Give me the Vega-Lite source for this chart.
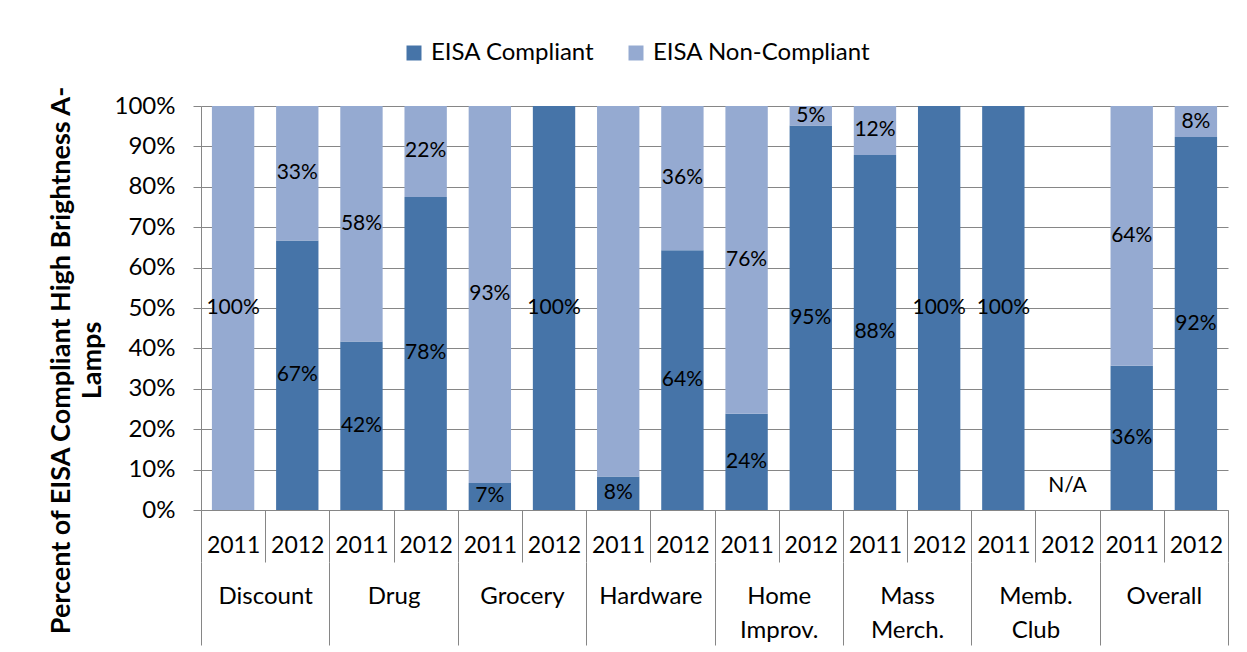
{
  "$schema": "https://vega.github.io/schema/vega-lite/v6.json",
  "width": 1027,
  "height": 404,
  "autosize": {"type": "none"},
  "padding": {"left": 201, "top": 106, "right": 19, "bottom": 142},
  "background": "white",
  "config": {
    "font": "Lato",
    "view": {"stroke": null},
    "axis": {"labelColor": "#000000", "titleColor": "#000000", "domainColor": "#868686", "tickColor": "#868686", "gridColor": "#868686", "labelFont": "Lato", "titleFont": "Lato"},
    "legend": {"labelFont": "Lato"}
  },
  "data": {
    "values": [
      {"cat": "Discount", "year": "2011", "status": "EISA Compliant", "value": 0.0, "label": ""},
      {"cat": "Discount", "year": "2011", "status": "EISA Non-Compliant", "value": 1.0, "label": "100%"},
      {"cat": "Discount", "year": "2012", "status": "EISA Compliant", "value": 0.667, "label": "67%"},
      {"cat": "Discount", "year": "2012", "status": "EISA Non-Compliant", "value": 0.333, "label": "33%"},
      {"cat": "Drug", "year": "2011", "status": "EISA Compliant", "value": 0.417, "label": "42%"},
      {"cat": "Drug", "year": "2011", "status": "EISA Non-Compliant", "value": 0.583, "label": "58%"},
      {"cat": "Drug", "year": "2012", "status": "EISA Compliant", "value": 0.775, "label": "78%"},
      {"cat": "Drug", "year": "2012", "status": "EISA Non-Compliant", "value": 0.225, "label": "22%"},
      {"cat": "Grocery", "year": "2011", "status": "EISA Compliant", "value": 0.067, "label": "7%"},
      {"cat": "Grocery", "year": "2011", "status": "EISA Non-Compliant", "value": 0.933, "label": "93%"},
      {"cat": "Grocery", "year": "2012", "status": "EISA Compliant", "value": 1.0, "label": "100%"},
      {"cat": "Grocery", "year": "2012", "status": "EISA Non-Compliant", "value": 0.0, "label": ""},
      {"cat": "Hardware", "year": "2011", "status": "EISA Compliant", "value": 0.083, "label": "8%"},
      {"cat": "Hardware", "year": "2011", "status": "EISA Non-Compliant", "value": 0.917, "label": ""},
      {"cat": "Hardware", "year": "2012", "status": "EISA Compliant", "value": 0.643, "label": "64%"},
      {"cat": "Hardware", "year": "2012", "status": "EISA Non-Compliant", "value": 0.357, "label": "36%"},
      {"cat": "Home Improv.", "year": "2011", "status": "EISA Compliant", "value": 0.238, "label": "24%"},
      {"cat": "Home Improv.", "year": "2011", "status": "EISA Non-Compliant", "value": 0.762, "label": "76%"},
      {"cat": "Home Improv.", "year": "2012", "status": "EISA Compliant", "value": 0.952, "label": "95%"},
      {"cat": "Home Improv.", "year": "2012", "status": "EISA Non-Compliant", "value": 0.048, "label": "5%"},
      {"cat": "Mass Merch.", "year": "2011", "status": "EISA Compliant", "value": 0.879, "label": "88%"},
      {"cat": "Mass Merch.", "year": "2011", "status": "EISA Non-Compliant", "value": 0.121, "label": "12%"},
      {"cat": "Mass Merch.", "year": "2012", "status": "EISA Compliant", "value": 1.0, "label": "100%"},
      {"cat": "Mass Merch.", "year": "2012", "status": "EISA Non-Compliant", "value": 0.0, "label": ""},
      {"cat": "Memb. Club", "year": "2011", "status": "EISA Compliant", "value": 1.0, "label": "100%"},
      {"cat": "Memb. Club", "year": "2011", "status": "EISA Non-Compliant", "value": 0.0, "label": ""},
      {"cat": "Overall", "year": "2011", "status": "EISA Compliant", "value": 0.357, "label": "36%"},
      {"cat": "Overall", "year": "2011", "status": "EISA Non-Compliant", "value": 0.643, "label": "64%"},
      {"cat": "Overall", "year": "2012", "status": "EISA Compliant", "value": 0.923, "label": "92%"},
      {"cat": "Overall", "year": "2012", "status": "EISA Non-Compliant", "value": 0.077, "label": "8%"}
    ]
  },
  "transform": [
    {"calculate": "datum.cat + '|' + datum.year", "as": "key"},
    {"stack": "value", "groupby": ["key"], "sort": [{"field": "status", "order": "ascending"}], "as": ["v0", "v1"]},
    {"calculate": "(datum.v0 + datum.v1) / 2", "as": "mid"}
  ],
  "resolve": {"scale": {"x": "independent"}},
  "layer": [
    {
      "encoding": {
        "x": {
          "field": "key",
          "type": "nominal",
          "scale": {
            "domain": ["Discount|2011", "Discount|2012", "Drug|2011", "Drug|2012", "Grocery|2011", "Grocery|2012", "Hardware|2011", "Hardware|2012", "Home Improv.|2011", "Home Improv.|2012", "Mass Merch.|2011", "Mass Merch.|2012", "Memb. Club|2011", "Memb. Club|2012", "Overall|2011", "Overall|2012"],
            "paddingInner": 0,
            "paddingOuter": 0
          },
          "axis": {
            "orient": "bottom",
            "title": null,
            "grid": false,
            "domain": true,
            "ticks": true,
            "tickSize": 52,
            "tickBand": "extent",
            "labelAngle": 0,
            "labelBaseline": "middle",
            "labelPadding": -17,
            "labelFontSize": 23,
            "labelOverlap": false,
            "labelExpr": "split(datum.label, '|')[1]"
          }
        }
      },
      "layer": [
        {
          "mark": {"type": "bar", "width": {"band": 0.66}},
          "encoding": {
            "y": {
              "field": "v1",
              "type": "quantitative",
              "scale": {"domain": [0, 1], "nice": false},
              "axis": {
                "values": [0, 0.1, 0.2, 0.3, 0.4, 0.5, 0.6, 0.7, 0.8, 0.9, 1.0],
                "format": ".0%",
                "grid": true,
                "tickSize": 8,
                "labelPadding": 18,
                "labelFontSize": 24,
                "title": ["Percent of EISA Compliant High Brightness A-", "Lamps"],
                "titleFontSize": 27,
                "titleFontWeight": "bold",
                "titleAngle": -90,
                "titleAlign": "center",
                "titleBaseline": "top",
                "titleLineHeight": 31,
                "titleX": -153,
                "titleY": 254
              }
            },
            "y2": {"field": "v0"},
            "color": {
              "field": "status",
              "type": "nominal",
              "scale": {"domain": ["EISA Compliant", "EISA Non-Compliant"], "range": ["#4674A8", "#95AAD1"]},
              "legend": {
                "orient": "none",
                "legendX": 201,
                "legendY": -65,
                "direction": "horizontal",
                "title": null,
                "symbolType": "square",
                "symbolSize": 225,
                "symbolStrokeWidth": 0,
                "labelFontSize": 24,
                "labelColor": "#000000",
                "labelOffset": 5,
                "labelLimit": 400,
                "columnPadding": 29
              }
            }
          }
        },
        {
          "mark": {"type": "text", "fontSize": 21, "color": "#000000", "align": "center", "baseline": "middle"},
          "encoding": {
            "y": {"field": "mid", "type": "quantitative"},
            "text": {"field": "label"}
          }
        },
        {
          "data": {"values": [{"key": "Memb. Club|2012", "pos": 0.06, "label": "N/A"}]},
          "mark": {"type": "text", "fontSize": 21, "color": "#000000", "align": "center", "baseline": "middle"},
          "encoding": {
            "y": {"field": "pos", "type": "quantitative"},
            "text": {"field": "label"}
          }
        }
      ]
    },
    {
      "mark": {"type": "text"},
      "encoding": {
        "x": {
          "field": "cat",
          "type": "nominal",
          "scale": {
            "domain": ["Discount", "Drug", "Grocery", "Hardware", "Home Improv.", "Mass Merch.", "Memb. Club", "Overall"],
            "paddingInner": 0,
            "paddingOuter": 0
          },
          "axis": {
            "orient": "bottom",
            "offset": 52,
            "title": null,
            "grid": false,
            "domain": false,
            "ticks": true,
            "tickSize": 83,
            "tickBand": "extent",
            "labelAngle": 0,
            "labelBaseline": "top",
            "labelPadding": -61,
            "labelFontSize": 24,
            "labelLineHeight": 34,
            "labelOverlap": false,
            "labelExpr": "split(datum.label, ' ')"
          }
        },
        "text": {"value": ""}
      }
    }
  ]
}
